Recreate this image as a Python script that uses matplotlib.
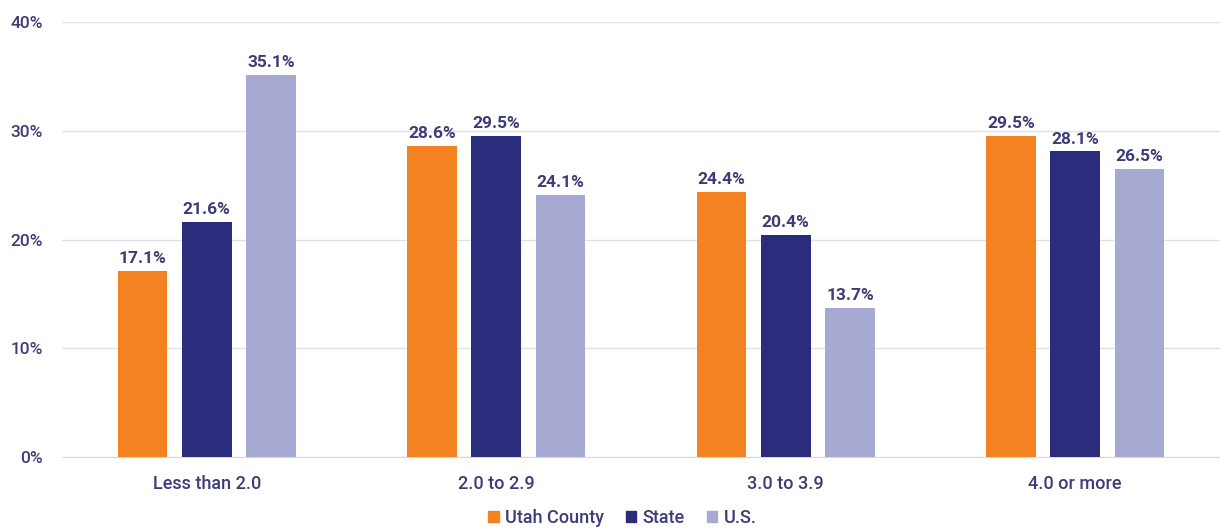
import numpy as np
import matplotlib.pyplot as plt
from matplotlib.patches import Patch

# data
categories = ['Less than 2.0', '2.0 to 2.9', '3.0 to 3.9', '4.0 or more']
series = ['Utah County', 'State', 'U.S.']
utah = [17.1, 28.6, 24.4, 29.5]
state = [21.6, 29.5, 20.4, 28.1]
us = [35.1, 24.1, 13.7, 26.5]

colors = ['#F58220', '#2B2C7C', '#A6A9D2']
txt = '#3E3C78'

plt.rcParams['font.family'] = ['Roboto', 'DejaVu Sans']

fig = plt.figure(figsize=(12.2, 5.29), dpi=100)
ax = fig.add_axes([62 / 1220, 72 / 529, 1 - 62 / 1220, (457 - 22) / 529])

x = np.arange(len(categories))
w = 0.172
step = 0.222
for i, (vals, col) in enumerate(zip([utah, state, us], colors)):
    pos = x + (i - 1) * step
    ax.bar(pos, vals, width=w, color=col, zorder=3)
    for p, v in zip(pos, vals):
        ax.text(p, v + 0.45, f'{v:.1f}%', ha='center', va='bottom',
                fontsize=12.5, fontweight='bold', color=txt)

ax.set_xlim(-0.5, 3.5)
ax.set_ylim(0, 40)
ax.set_yticks([0, 10, 20, 30, 40])
ax.set_yticklabels([f'{t}%' for t in [0, 10, 20, 30, 40]])
ax.set_xticks(x)
ax.set_xticklabels(categories)
ax.tick_params(axis='y', length=0, pad=14, labelsize=12.5, labelcolor=txt)
ax.tick_params(axis='x', length=0, pad=13, labelsize=13, labelcolor=txt)
for lab in ax.get_xticklabels() + ax.get_yticklabels():
    lab.set_fontweight('medium')
ax.grid(axis='y', color='#E2E0E8', linewidth=1, zorder=0)
for s in ['top', 'right', 'left']:
    ax.spines[s].set_visible(False)
ax.spines['bottom'].set_color('#D8D6E0')

handles = [Patch(color=c, label=s) for c, s in zip(colors, series)]
leg = fig.legend(handles=handles, loc='lower center', bbox_to_anchor=(0.51, -0.027), ncol=3,
                 frameon=False, fontsize=13, handlelength=0.6, handleheight=0.6,
                 handletextpad=0.35, columnspacing=1.2, labelcolor=txt)
for t in leg.get_texts():
    t.set_fontweight('medium')

fig.savefig('out.png', dpi=100)
